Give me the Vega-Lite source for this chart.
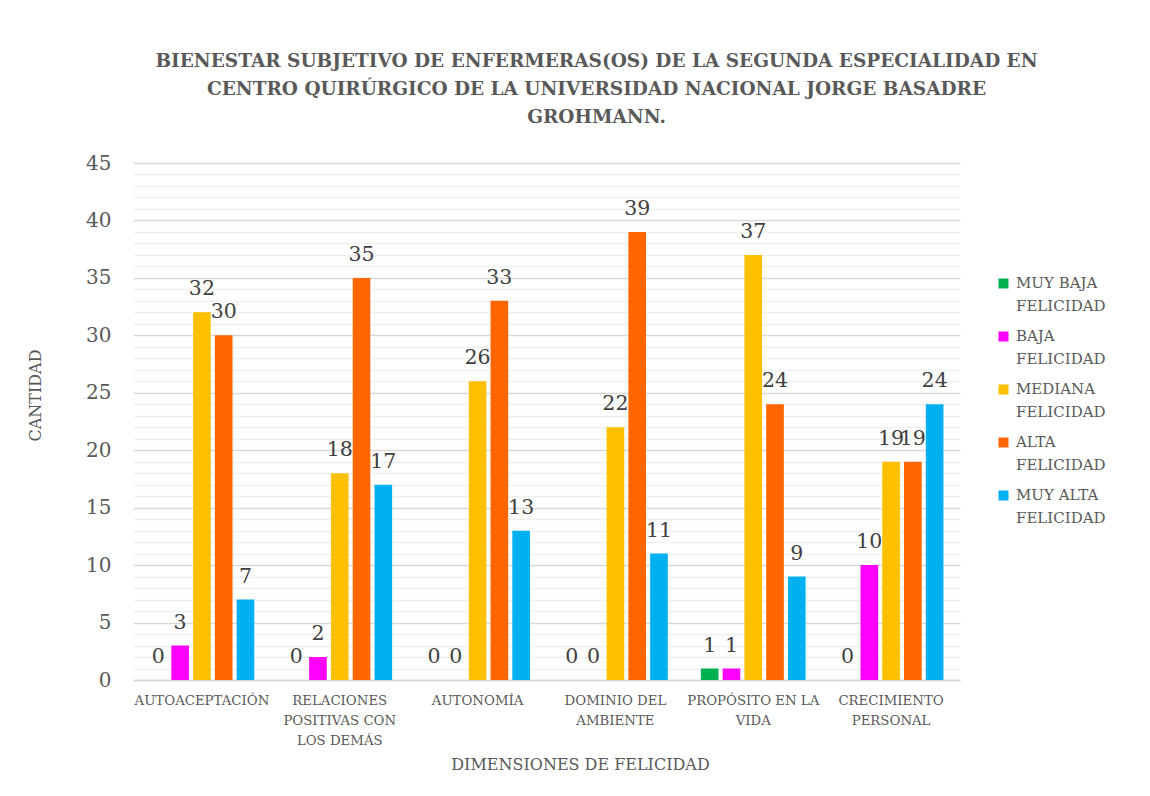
{
  "$schema": "https://vega.github.io/schema/vega-lite/v6.json",
  "width": 827,
  "height": 517,
  "autosize": {"type": "none"},
  "padding": {"left": 133, "top": 163, "right": 190, "bottom": 116},
  "background": "white",
  "config": {
    "font": "DejaVu Serif",
    "view": {"stroke": null}
  },
  "title": {
    "text": ["BIENESTAR SUBJETIVO DE ENFERMERAS(OS) DE LA SEGUNDA ESPECIALIDAD EN", "CENTRO QUIRÚRGICO DE LA UNIVERSIDAD NACIONAL JORGE BASADRE", "GROHMANN."],
    "font": "DejaVu Serif",
    "fontSize": 18.5,
    "fontWeight": "bold",
    "color": "#595959",
    "anchor": "middle",
    "frame": "group",
    "dx": 50,
    "offset": 27,
    "lineHeight": 28
  },
  "data": {
    "values": [
      {"dimension": "AUTOACEPTACIÓN", "nivel": "MUY BAJA FELICIDAD", "cantidad": 0},
      {"dimension": "AUTOACEPTACIÓN", "nivel": "BAJA FELICIDAD", "cantidad": 3},
      {"dimension": "AUTOACEPTACIÓN", "nivel": "MEDIANA FELICIDAD", "cantidad": 32},
      {"dimension": "AUTOACEPTACIÓN", "nivel": "ALTA FELICIDAD", "cantidad": 30},
      {"dimension": "AUTOACEPTACIÓN", "nivel": "MUY ALTA FELICIDAD", "cantidad": 7},
      {"dimension": "RELACIONES POSITIVAS CON LOS DEMÁS", "nivel": "MUY BAJA FELICIDAD", "cantidad": 0},
      {"dimension": "RELACIONES POSITIVAS CON LOS DEMÁS", "nivel": "BAJA FELICIDAD", "cantidad": 2},
      {"dimension": "RELACIONES POSITIVAS CON LOS DEMÁS", "nivel": "MEDIANA FELICIDAD", "cantidad": 18},
      {"dimension": "RELACIONES POSITIVAS CON LOS DEMÁS", "nivel": "ALTA FELICIDAD", "cantidad": 35},
      {"dimension": "RELACIONES POSITIVAS CON LOS DEMÁS", "nivel": "MUY ALTA FELICIDAD", "cantidad": 17},
      {"dimension": "AUTONOMÍA", "nivel": "MUY BAJA FELICIDAD", "cantidad": 0},
      {"dimension": "AUTONOMÍA", "nivel": "BAJA FELICIDAD", "cantidad": 0},
      {"dimension": "AUTONOMÍA", "nivel": "MEDIANA FELICIDAD", "cantidad": 26},
      {"dimension": "AUTONOMÍA", "nivel": "ALTA FELICIDAD", "cantidad": 33},
      {"dimension": "AUTONOMÍA", "nivel": "MUY ALTA FELICIDAD", "cantidad": 13},
      {"dimension": "DOMINIO DEL AMBIENTE", "nivel": "MUY BAJA FELICIDAD", "cantidad": 0},
      {"dimension": "DOMINIO DEL AMBIENTE", "nivel": "BAJA FELICIDAD", "cantidad": 0},
      {"dimension": "DOMINIO DEL AMBIENTE", "nivel": "MEDIANA FELICIDAD", "cantidad": 22},
      {"dimension": "DOMINIO DEL AMBIENTE", "nivel": "ALTA FELICIDAD", "cantidad": 39},
      {"dimension": "DOMINIO DEL AMBIENTE", "nivel": "MUY ALTA FELICIDAD", "cantidad": 11},
      {"dimension": "PROPÓSITO EN LA VIDA", "nivel": "MUY BAJA FELICIDAD", "cantidad": 1},
      {"dimension": "PROPÓSITO EN LA VIDA", "nivel": "BAJA FELICIDAD", "cantidad": 1},
      {"dimension": "PROPÓSITO EN LA VIDA", "nivel": "MEDIANA FELICIDAD", "cantidad": 37},
      {"dimension": "PROPÓSITO EN LA VIDA", "nivel": "ALTA FELICIDAD", "cantidad": 24},
      {"dimension": "PROPÓSITO EN LA VIDA", "nivel": "MUY ALTA FELICIDAD", "cantidad": 9},
      {"dimension": "CRECIMIENTO PERSONAL", "nivel": "MUY BAJA FELICIDAD", "cantidad": 0},
      {"dimension": "CRECIMIENTO PERSONAL", "nivel": "BAJA FELICIDAD", "cantidad": 10},
      {"dimension": "CRECIMIENTO PERSONAL", "nivel": "MEDIANA FELICIDAD", "cantidad": 19},
      {"dimension": "CRECIMIENTO PERSONAL", "nivel": "ALTA FELICIDAD", "cantidad": 19},
      {"dimension": "CRECIMIENTO PERSONAL", "nivel": "MUY ALTA FELICIDAD", "cantidad": 24}
    ]
  },
  "encoding": {
    "x": {
      "field": "dimension",
      "type": "nominal",
      "sort": null,
      "scale": {"paddingInner": 0.24, "paddingOuter": 0.12},
      "axis": {
        "title": "DIMENSIONES DE FELICIDAD",
        "titleFont": "DejaVu Serif",
        "titleFontSize": 16,
        "titleFontWeight": "normal",
        "titleColor": "#595959",
        "titleX": 447,
        "titleY": 76,
        "labelAngle": 0,
        "labelFontSize": 13.3,
        "labelColor": "#595959",
        "labelPadding": 13,
        "labelLineHeight": 20,
        "labelBaseline": "top",
        "labelExpr": "datum.value == 'RELACIONES POSITIVAS CON LOS DEMÁS' ? ['RELACIONES', 'POSITIVAS CON', 'LOS DEMÁS'] : datum.value == 'DOMINIO DEL AMBIENTE' ? ['DOMINIO DEL', 'AMBIENTE'] : datum.value == 'PROPÓSITO EN LA VIDA' ? ['PROPÓSITO EN LA', 'VIDA'] : datum.value == 'CRECIMIENTO PERSONAL' ? ['CRECIMIENTO', 'PERSONAL'] : datum.value",
        "ticks": false,
        "domain": true,
        "domainColor": "#d9d9d9",
        "domainWidth": 1.5
      }
    },
    "xOffset": {
      "field": "nivel",
      "type": "nominal",
      "sort": ["MUY BAJA FELICIDAD", "BAJA FELICIDAD", "MEDIANA FELICIDAD", "ALTA FELICIDAD", "MUY ALTA FELICIDAD"],
      "scale": {"paddingInner": 0.19, "paddingOuter": 0}
    },
    "y": {
      "field": "cantidad",
      "type": "quantitative",
      "scale": {"domain": [0, 45], "nice": false},
      "axis": {
        "title": "CANTIDAD",
        "titleFont": "DejaVu Serif",
        "titleFontSize": 16,
        "titleFontWeight": "normal",
        "titleColor": "#595959",
        "titleX": -98,
        "titleY": 232,
        "titleAngle": -90,
        "titleAlign": "center",
        "titleBaseline": "middle",
        "values": [0,1,2,3,4,5,6,7,8,9,10,11,12,13,14,15,16,17,18,19,20,21,22,23,24,25,26,27,28,29,30,31,32,33,34,35,36,37,38,39,40,41,42,43,44,45],
        "labelExpr": "datum.value % 5 === 0 ? datum.label : ''",
        "labelFontSize": 20,
        "labelColor": "#595959",
        "labelPadding": 22,
        "ticks": false,
        "domain": false,
        "grid": true,
        "gridColor": {"condition": {"test": "datum.value % 5 === 0", "value": "#d9d9d9"}, "value": "#f0f0f0"},
        "gridWidth": 1.5
      }
    }
  },
  "layer": [
    {
      "mark": {"type": "bar"},
      "encoding": {
        "color": {
          "field": "nivel",
          "type": "nominal",
          "scale": {
            "domain": ["MUY BAJA FELICIDAD", "BAJA FELICIDAD", "MEDIANA FELICIDAD", "ALTA FELICIDAD", "MUY ALTA FELICIDAD"],
            "range": ["#00B050", "#FF00FF", "#FFC000", "#FF6600", "#00B0F0"]
          },
          "legend": {
            "title": null,
            "orient": "none",
            "legendX": 863,
            "legendY": 113,
            "symbolType": "square",
            "symbolSize": 100,
            "symbolStrokeWidth": 0,
            "labelFont": "DejaVu Serif",
            "labelFontSize": 15,
            "labelColor": "#595959",
            "labelLimit": 200,
            "rowPadding": 14,
            "labelOffset": 5,
            "labelBaseline": "top",
            "labelExpr": "datum.value == 'MUY BAJA FELICIDAD' ? ['MUY BAJA', 'FELICIDAD'] : datum.value == 'BAJA FELICIDAD' ? ['BAJA', 'FELICIDAD'] : datum.value == 'MEDIANA FELICIDAD' ? ['MEDIANA', 'FELICIDAD'] : datum.value == 'ALTA FELICIDAD' ? ['ALTA', 'FELICIDAD'] : ['MUY ALTA', 'FELICIDAD']",
            "encode": {"labels": {"update": {"lineHeight": {"value": 23}, "dy": {"value": -8}}}}
          }
        }
      }
    },
    {
      "mark": {"type": "text", "baseline": "alphabetic", "dy": -17, "fontSize": 20.5, "color": "#404040", "font": "DejaVu Serif"},
      "encoding": {
        "text": {"field": "cantidad", "type": "quantitative"}
      }
    }
  ]
}
